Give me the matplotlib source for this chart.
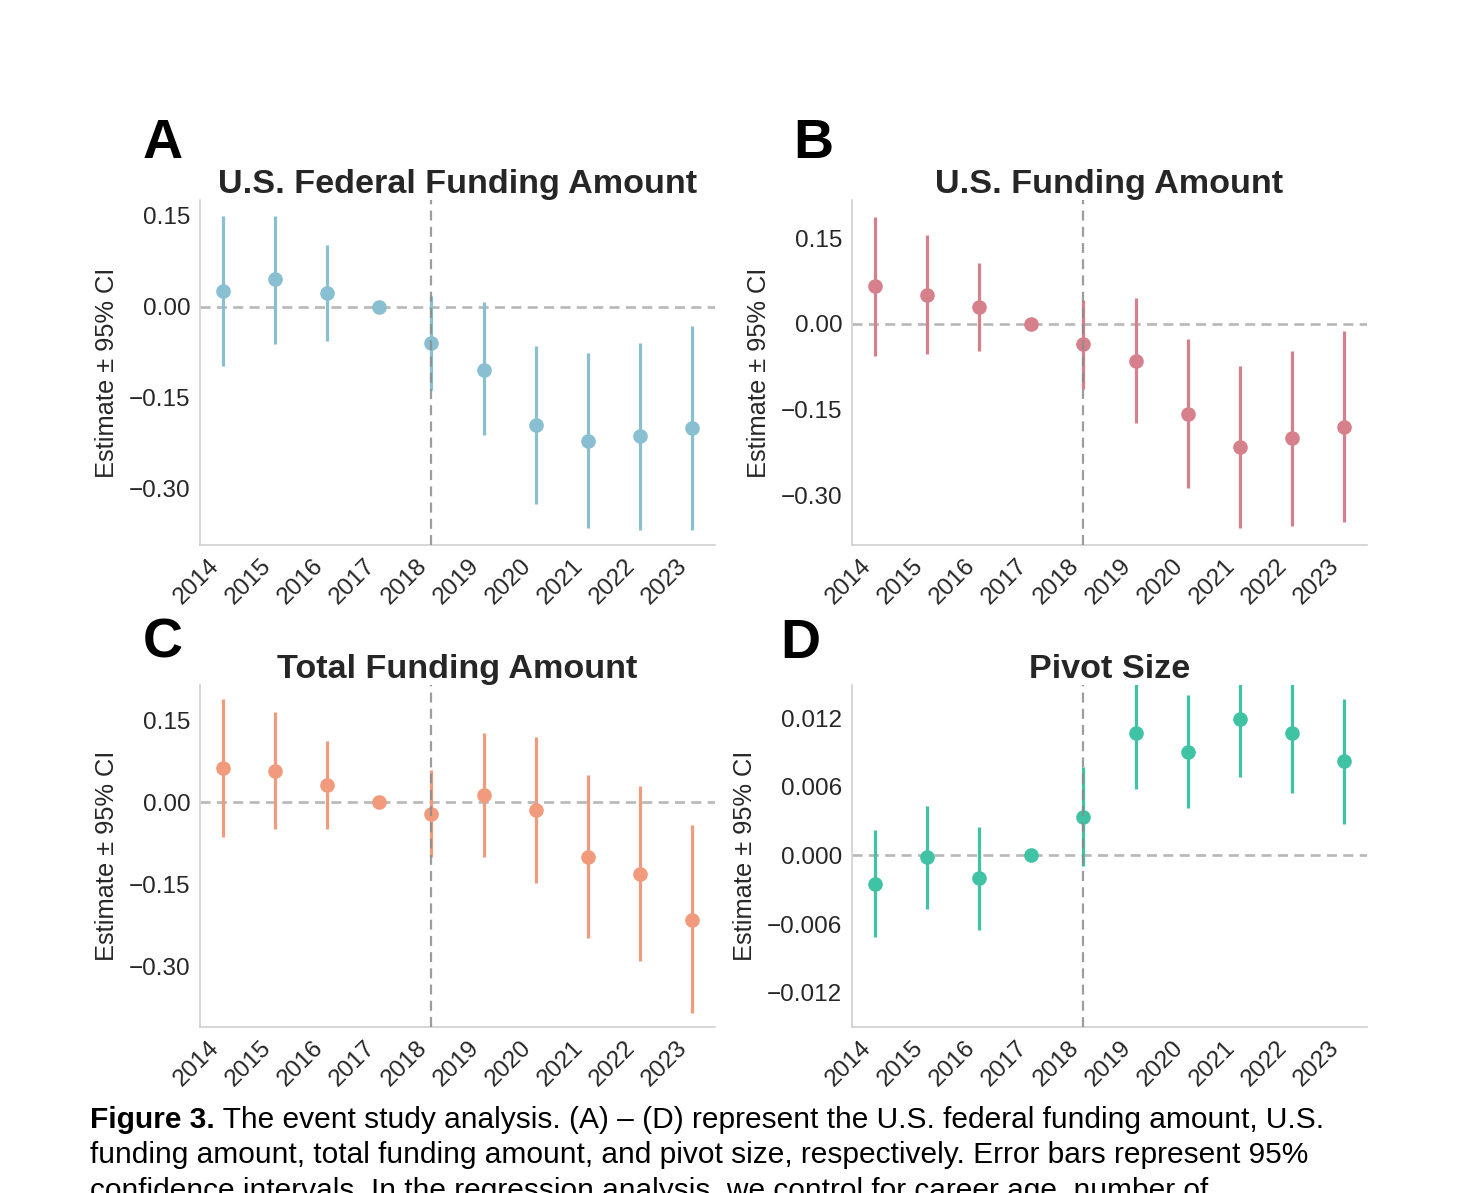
import matplotlib as mpl
mpl.use("Agg")
import matplotlib.pyplot as plt
import numpy as np

plt.rcParams["font.family"] = ["Liberation Sans", "DejaVu Sans"]

years = ["2014", "2015", "2016", "2017", "2018", "2019", "2020", "2021", "2022", "2023"]

# panel A: U.S. federal funding amount
fed_est = [0.026, 0.045, 0.023, 0.0, -0.060, -0.104, -0.195, -0.221, -0.214, -0.200]
fed_lo = [-0.098, -0.061, -0.057, 0.0, -0.137, -0.212, -0.325, -0.365, -0.369, -0.369]
fed_hi = [0.150, 0.150, 0.102, 0.0, 0.018, 0.007, -0.064, -0.076, -0.060, -0.031]

# panel B: U.S. funding amount
us_est = [0.066, 0.051, 0.030, 0.0, -0.035, -0.065, -0.158, -0.216, -0.200, -0.180]
us_lo = [-0.056, -0.052, -0.048, 0.0, -0.114, -0.174, -0.288, -0.358, -0.354, -0.346]
us_hi = [0.188, 0.155, 0.107, 0.0, 0.042, 0.045, -0.027, -0.073, -0.048, -0.013]

# panel C: total funding amount
tot_est = [0.062, 0.058, 0.031, 0.0, -0.021, 0.013, -0.014, -0.099, -0.130, -0.214]
tot_lo = [-0.063, -0.048, -0.049, 0.0, -0.099, -0.099, -0.148, -0.247, -0.289, -0.385]
tot_hi = [0.188, 0.165, 0.111, 0.0, 0.059, 0.126, 0.120, 0.049, 0.029, -0.041]

# panel D: pivot size
piv_est = [-0.00247, -0.00017, -0.00201, 0.0, 0.00340, 0.01068, 0.00905, 0.01190, 0.01068, 0.00826]
piv_lo = [-0.00713, -0.00469, -0.00649, 0.0, -0.00096, 0.00585, 0.00413, 0.00690, 0.00544, 0.00276]
piv_hi = [0.00218, 0.00434, 0.00247, 0.0, 0.00777, 0.01550, 0.01400, 0.01690, 0.01590, 0.01365]

panels = [
    ("A", "U.S. Federal Funding Amount", fed_est, fed_lo, fed_hi, "#88bfd1",
     (-0.393, 0.176), [-0.30, -0.15, 0.0, 0.15], "{:.2f}"),
    ("B", "U.S. Funding Amount", us_est, us_lo, us_hi, "#d6808b",
     (-0.387, 0.217), [-0.30, -0.15, 0.0, 0.15], "{:.2f}"),
    ("C", "Total Funding Amount", tot_est, tot_lo, tot_hi, "#f29b7c",
     (-0.410, 0.214), [-0.30, -0.15, 0.0, 0.15], "{:.2f}"),
    ("D", "Pivot Size", piv_est, piv_lo, piv_hi, "#40c3a4",
     (-0.0150, 0.0149), [-0.012, -0.006, 0.0, 0.006, 0.012], "{:.3f}"),
]

W, H = 1476, 1193
fig = plt.figure(figsize=(W / 100, H / 100), dpi=100)

# axes boxes in pixels: left, top, right, bottom
boxes = [(200, 200, 715, 545), (852, 200, 1367, 545),
         (200, 685, 715, 1027), (852, 685, 1367, 1027)]
letter_pos = [(143, 118), (793, 118), (143, 618), (780, 618)]

for (letter, title, est, lo, hi, color, ylim, yticks, fmt), box, lp in zip(panels, boxes, letter_pos):
    l, t, r, b = box
    ax = fig.add_axes([l / W, 1 - b / H, (r - l) / W, (b - t) / H])
    x = np.arange(len(years))
    est = np.array(est)
    lo = np.array(lo)
    hi = np.array(hi)
    ax.vlines(x, lo, hi, color=color, lw=2.3, zorder=2)
    ax.plot(x, est, "o", color=color, ms=9.5, zorder=3)
    ax.axhline(0, color="#b8b8b8", lw=1.9, dashes=(3.8, 2.4), zorder=1)
    ax.axvline(4, color="#8c8c8c", lw=1.6, dashes=(4.5, 2.8), alpha=0.85, zorder=4)

    ax.set_xlim(-0.45, 9.45)
    ax.set_ylim(*ylim)
    ax.set_xticks(x)
    ax.set_xticklabels(years, rotation=45, ha="right")
    ax.set_yticks(yticks)
    ax.set_yticklabels([fmt.format(v).replace("-", "\u2212") for v in yticks])
    ax.tick_params(length=0, labelsize=17.5, colors="#262626", pad=7)
    ax.set_ylabel("Estimate \u00b1 95% CI", fontsize=18.3, color="#262626", labelpad=7)
    ax.set_title(title, fontsize=24.6, fontweight="bold", color="#262626", pad=5)
    for s in ["top", "right"]:
        ax.spines[s].set_visible(False)
    for s in ["left", "bottom"]:
        ax.spines[s].set_color("#d0d0d0")
        ax.spines[s].set_linewidth(1.2)

    fig.text(lp[0] / W, 1 - lp[1] / H, letter, fontsize=40, fontweight="bold",
             color="black", ha="left", va="top")

# caption (the third line is cut by the bottom edge, as in the source)
cap_x = 90 / W
cap_size = 21.5
bold = fig.text(cap_x, 1 - 1120 / H, "Figure 3.", fontsize=cap_size, fontweight="bold",
                va="center", ha="left")
fig.canvas.draw()
bb = bold.get_window_extent(fig.canvas.get_renderer())
fig.text(bb.x1 / W, 1 - 1120 / H,
         " The event study analysis. (A) \u2013 (D) represent the U.S. federal funding amount, U.S.",
         fontsize=cap_size, va="center", ha="left")
fig.text(cap_x, 1 - 1155 / H,
         "funding amount, total funding amount, and pivot size, respectively. Error bars represent 95%",
         fontsize=cap_size, va="center", ha="left")
fig.text(cap_x, 1 - 1191 / H,
         "confidence intervals. In the regression analysis, we control for career age, number of",
         fontsize=cap_size, va="center", ha="left")

fig.savefig("out.png", dpi=100)
plt.close(fig)
